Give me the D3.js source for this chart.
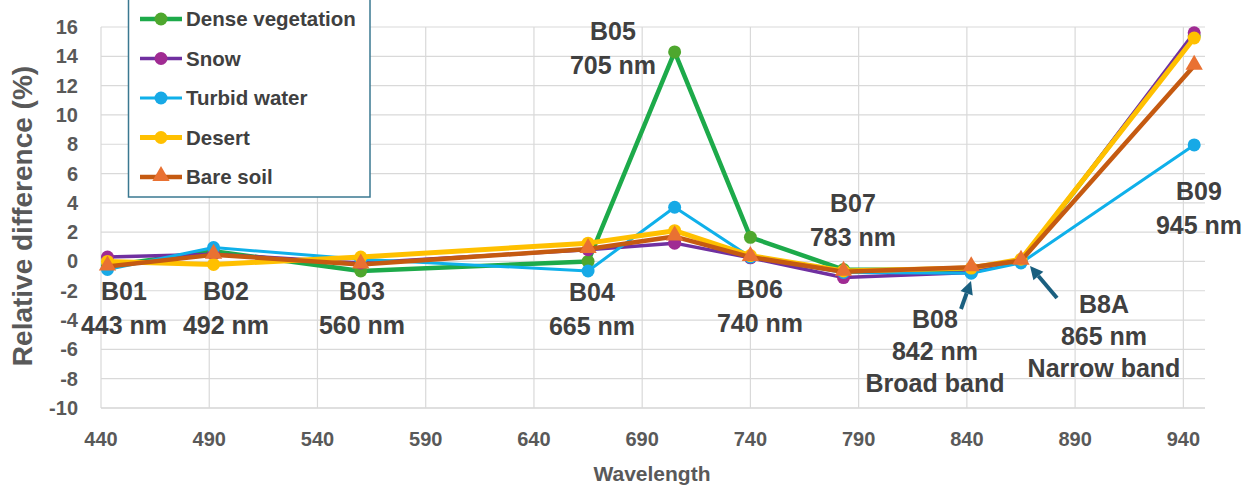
<!DOCTYPE html>
<html>
<head>
<meta charset="utf-8">
<script src="https://cdn.jsdelivr.net/npm/d3@7"></script>
<style>
  body { margin: 0; background: #fff; }
  svg { display: block; font-family: "Liberation Sans", Arial, sans-serif; }
</style>
</head>
<body>
<svg width="1242" height="490"></svg>
<script>
// band centre wavelengths (nm)
const wavelengths = [443, 492, 560, 665, 705, 740, 783, 842, 865, 945];

// relative difference (%) per surface type
const denseVegetation = [-0.3, 0.7, -0.65, 0.0, 14.3, 1.65, -0.55, -0.6, 0.05, 15.4];
const snow = [0.3, 0.5, -0.1, 0.8, 1.25, 0.25, -1.1, -0.75, 0.0, 15.6];
const turbidWater = [-0.55, 0.95, 0.15, -0.65, 3.7, 0.3, -0.75, -0.8, -0.1, 7.95];
const desert = [0.0, -0.2, 0.3, 1.25, 2.1, 0.4, -0.65, -0.45, 0.15, 15.25];
const bareSoil = [-0.35, 0.45, -0.2, 0.85, 1.7, 0.3, -0.7, -0.4, 0.05, 13.35];

const seriesNames = ["Dense vegetation", "Snow", "Turbid water", "Desert", "Bare soil"];

const xTicks = [440, 490, 540, 590, 640, 690, 740, 790, 840, 890, 940];
const yTicks = [-10, -8, -6, -4, -2, 0, 2, 4, 6, 8, 10, 12, 14, 16];

// band annotations
const bandLabels = [
  ["B01", "443 nm"], ["B02", "492 nm"], ["B03", "560 nm"], ["B04", "665 nm"],
  ["B05", "705 nm"], ["B06", "740 nm"], ["B07", "783 nm"],
  ["B08", "842 nm", "Broad band"], ["B8A", "865 nm", "Narrow band"], ["B09", "945 nm"]
];

function init() {
  const svg = d3.select("svg");
  const left = 101, right = 1205, top = 27, bottom = 408;

  let xScale = d3.scaleLinear().domain([440, 950]).range([left, right]);
  let yScale = d3.scaleLinear().domain([-10, 16]).range([bottom, top]);

  const styles = [
    { line: "#1daa4a", marker: "#4ea72e", width: 4.5, shape: "circle" },
    { line: "#7030a0", marker: "#a02b93", width: 3.5, shape: "circle" },
    { line: "#0fb0ea", marker: "#17a9e6", width: 3, shape: "circle" },
    { line: "#ffc000", marker: "#ffc000", width: 5, shape: "circle" },
    { line: "#c55a11", marker: "#e97132", width: 4.5, shape: "triangle" }
  ];
  const allSeries = [denseVegetation, snow, turbidWater, desert, bareSoil];

  // grid
  svg.append("g").selectAll("line")
    .data(yTicks)
    .enter().append("line")
    .attr("x1", left).attr("x2", right)
    .attr("y1", d => yScale(d)).attr("y2", d => yScale(d))
    .attr("stroke", d => d === -10 ? "#bfbfbf" : "#d9d9d9")
    .attr("stroke-width", 1.2);

  svg.append("g").selectAll("line")
    .data(xTicks)
    .enter().append("line")
    .attr("x1", d => xScale(d)).attr("x2", d => xScale(d))
    .attr("y1", top).attr("y2", bottom)
    .attr("stroke", "#d9d9d9")
    .attr("stroke-width", 1.2);

  // tick labels
  svg.append("g").selectAll("text")
    .data(yTicks)
    .enter().append("text")
    .attr("x", 78)
    .attr("y", d => yScale(d) + 7)
    .attr("text-anchor", "end")
    .attr("font-size", "20px")
    .attr("font-weight", "bold")
    .attr("fill", "#595959")
    .text(d => d);

  svg.append("g").selectAll("text")
    .data(xTicks)
    .enter().append("text")
    .attr("x", d => xScale(d))
    .attr("y", 446)
    .attr("text-anchor", "middle")
    .attr("font-size", "20px")
    .attr("font-weight", "bold")
    .attr("fill", "#595959")
    .text(d => d);

  // axis titles
  svg.append("text")
    .attr("transform", "translate(32,216) rotate(-90)")
    .attr("text-anchor", "middle")
    .attr("font-size", "28px")
    .attr("font-weight", "bold")
    .attr("fill", "#595959")
    .text("Relative difference (%)");

  svg.append("text")
    .attr("x", 652)
    .attr("y", 481)
    .attr("text-anchor", "middle")
    .attr("font-size", "21px")
    .attr("font-weight", "bold")
    .attr("fill", "#595959")
    .text("Wavelength");

  // series
  let line = d3.line()
    .x((d, i) => xScale(wavelengths[i]))
    .y(d => yScale(d));

  const tri = d3.symbol().type(d3.symbolTriangle).size(130);

  allSeries.forEach((vals, s) => {
    const st = styles[s];
    const g = svg.append("g");
    g.append("path")
      .attr("d", line(vals))
      .attr("fill", "none")
      .attr("stroke", st.line)
      .attr("stroke-width", st.width)
      .attr("stroke-linejoin", "round");

    if (st.shape === "circle") {
      g.selectAll("circle")
        .data(vals)
        .enter().append("circle")
        .attr("cx", (d, i) => xScale(wavelengths[i]))
        .attr("cy", d => yScale(d))
        .attr("r", 6.5)
        .attr("fill", st.marker);
    } else {
      g.selectAll("path.m")
        .data(vals)
        .enter().append("path")
        .attr("class", "m")
        .attr("d", tri)
        .attr("transform", (d, i) => `translate(${xScale(wavelengths[i])},${yScale(d) - 1})`)
        .attr("fill", st.marker);
    }
  });

  // band annotations: centre x and first baseline
  const labelPos = [
    [124, 300], [226, 300], [362, 300], [592, 301], [613, 40],
    [760, 298], [853, 212], [935, 328], [1104, 313], [1199, 200]
  ];
  const ann = svg.append("g")
    .attr("font-size", "25px")
    .attr("font-weight", "bold")
    .attr("fill", "#404040")
    .attr("text-anchor", "middle");
  bandLabels.forEach((lines, k) => {
    const gap = lines.length === 3 ? 32 : 33.5;
    lines.forEach((t, j) => {
      ann.append("text")
        .attr("x", labelPos[k][0])
        .attr("y", labelPos[k][1] + j * gap)
        .text(t);
    });
  });

  // arrows to B08 and B8A
  const arrowColor = "#1a5f7f";
  const arrows = [
    { from: [961, 309], to: [971, 281] },
    { from: [1057, 298], to: [1030, 266] }
  ];
  arrows.forEach(a => {
    const dx = a.to[0] - a.from[0], dy = a.to[1] - a.from[1];
    const len = Math.sqrt(dx * dx + dy * dy);
    const ux = dx / len, uy = dy / len;
    const head = 13, half = 6.5;
    const bx = a.to[0] - ux * head, by = a.to[1] - uy * head;
    svg.append("line")
      .attr("x1", a.from[0]).attr("y1", a.from[1])
      .attr("x2", bx).attr("y2", by)
      .attr("stroke", arrowColor)
      .attr("stroke-width", 4);
    svg.append("path")
      .attr("d", `M${a.to[0]},${a.to[1]} L${bx - uy * half},${by + ux * half} L${bx + uy * half},${by - ux * half} Z`)
      .attr("fill", arrowColor);
  });

  // legend
  const legend = svg.append("g");
  legend.append("rect")
    .attr("x", 128.5).attr("y", -2)
    .attr("width", 241.5).attr("height", 199)
    .attr("fill", "#fff")
    .attr("stroke", "#3a7891")
    .attr("stroke-width", 1.5);

  seriesNames.forEach((name, s) => {
    const st = styles[s];
    const cy = 19 + s * 39.5;
    legend.append("line")
      .attr("x1", 140).attr("x2", 182)
      .attr("y1", cy).attr("y2", cy)
      .attr("stroke", st.line)
      .attr("stroke-width", st.width);
    if (st.shape === "circle") {
      legend.append("circle")
        .attr("cx", 161).attr("cy", cy).attr("r", 6.5)
        .attr("fill", st.marker);
    } else {
      legend.append("path")
        .attr("d", tri)
        .attr("transform", `translate(161,${cy - 1})`)
        .attr("fill", st.marker);
    }
    legend.append("text")
      .attr("x", 186)
      .attr("y", cy + 7)
      .attr("font-size", "20.5px")
      .attr("font-weight", "bold")
      .attr("fill", "#404040")
      .text(name);
  });
}

init();
</script>
</body>
</html>
